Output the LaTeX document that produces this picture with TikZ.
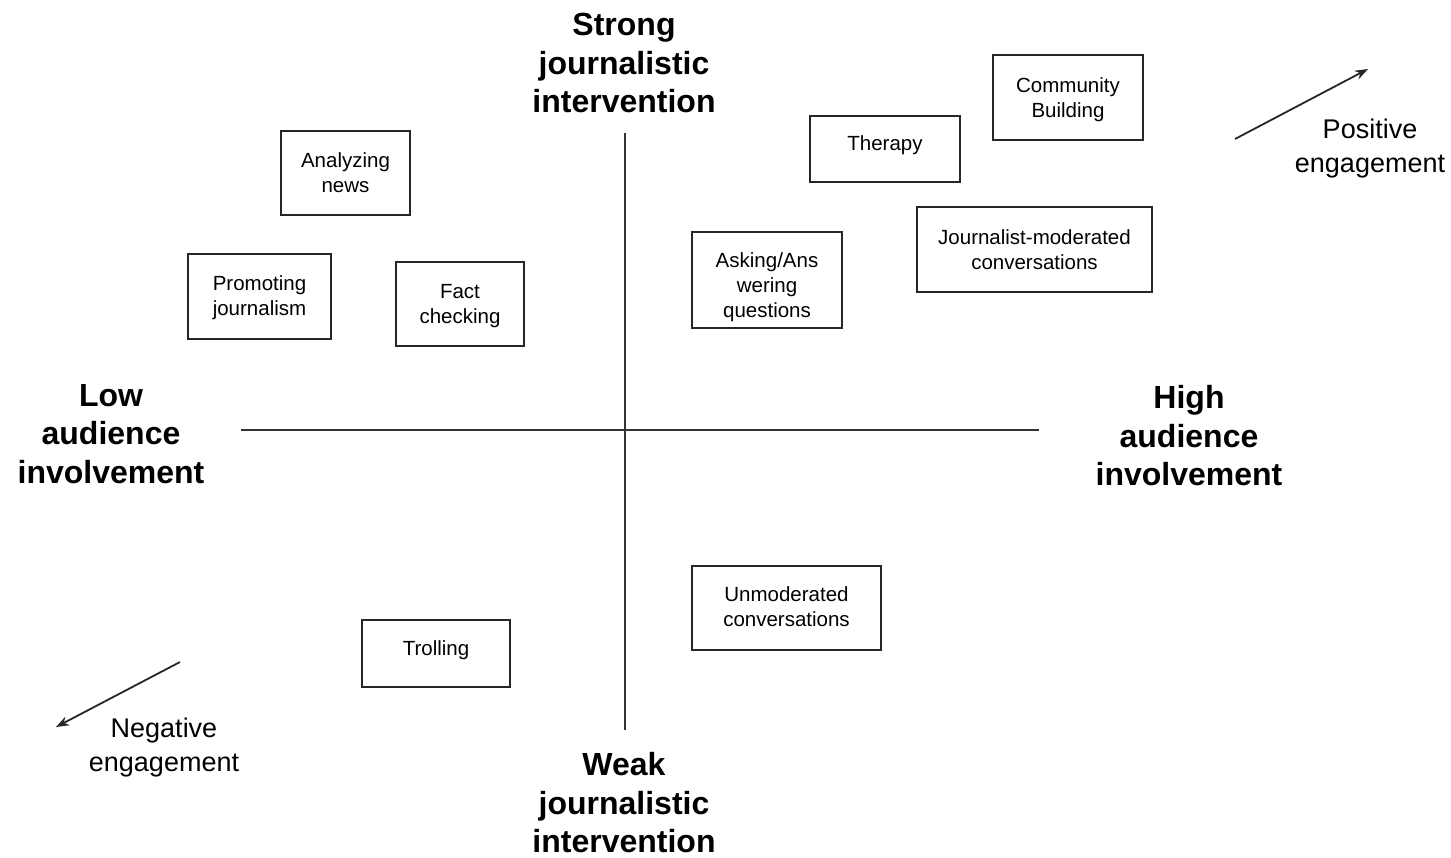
\documentclass[tikz,border=0pt]{standalone}
\usepackage{fontspec}
\setmainfont{Liberation Sans}
\usetikzlibrary{arrows.meta}
\newcommand{\boxlines}[2][-5pt]{\raisebox{#1}[0pt][0pt]{\begin{tabular}{@{}c@{}}#2\end{tabular}}}
\begin{document}
\begin{tikzpicture}[x=1pt,y=-1pt,
  box/.style={draw=black!85,line width=1.8pt,minimum width=#1,align=center,inner sep=0pt,font=\fontsize{20.5}{25}\selectfont},
  big/.style={align=center,font=\bfseries\fontsize{32}{38.5}\selectfont},
  eng/.style={align=center,font=\fontsize{27}{34}\selectfont},
  ax/.style={draw=black!80,line width=2pt},
  ar/.style={draw=black!85,line width=1.8pt,-{Stealth[length=13pt,width=9.5pt]}}]
\useasboundingbox (0,0) rectangle (1451,857);
% axes
\coordinate (vt) at (625,133); \coordinate (vb) at (625,730);
\coordinate (hl) at (241,430); \coordinate (hr) at (1039,430);
\draw[ax] (vt) -- (vb);
\draw[ax] (hl) -- (hr);
% axis labels
\node[big] (strong) at (624,63) {Strong\\journalistic\\intervention};
\node[big] (weak) at (624,803) {Weak\\journalistic\\intervention};
\node[big] (low) at (111,434) {Low\\audience\\involvement};
\node[big] (high) at (1189,436) {High\\audience\\involvement};
% boxes
\node[box=129pt,minimum height=84pt] (analyzing) at (345.5,173) {\boxlines[-7pt]{Analyzing\\news}};
\node[box=143pt,minimum height=85pt] (promoting) at (259.5,296.5) {\boxlines[-7pt]{Promoting\\journalism}};
\node[box=128pt,minimum height=84pt] (fact) at (460,304) {\boxlines[-7pt]{Fact\\checking}};
\node[box=150pt,minimum height=96pt] (asking) at (767,280) {\boxlines[-13pt]{Asking/Ans\\wering\\questions}};
\node[box=150pt,minimum height=66pt] (therapy) at (885,149) {\boxlines[-2pt]{Therapy}};
\node[box=150pt,minimum height=85pt] (community) at (1068,97.5) {\boxlines[-8pt]{Community\\Building}};
\node[box=235pt,minimum height=85pt] (jmod) at (1034.5,249.5) {\boxlines[-8pt]{Journalist-moderated\\conversations}};
\node[box=189pt,minimum height=84pt] (unmod) at (786.5,608) {\boxlines[-6pt]{Unmoderated\\conversations}};
\node[box=148pt,minimum height=67pt] (trolling) at (436,653.5) {\boxlines[-2pt]{Trolling}};
% engagement arrows
\coordinate (p1) at (1235,139); \coordinate (p2) at (1368,69);
\draw[ar] (p1) -- (p2);
\node[eng] (pos) at (1370,149) {Positive\\engagement};
\coordinate (n1) at (180,662); \coordinate (n2) at (56,727);
\draw[ar] (n1) -- (n2);
\node[eng] (neg) at (164,747.5) {Negative\\engagement};
\end{tikzpicture}
\end{document}
